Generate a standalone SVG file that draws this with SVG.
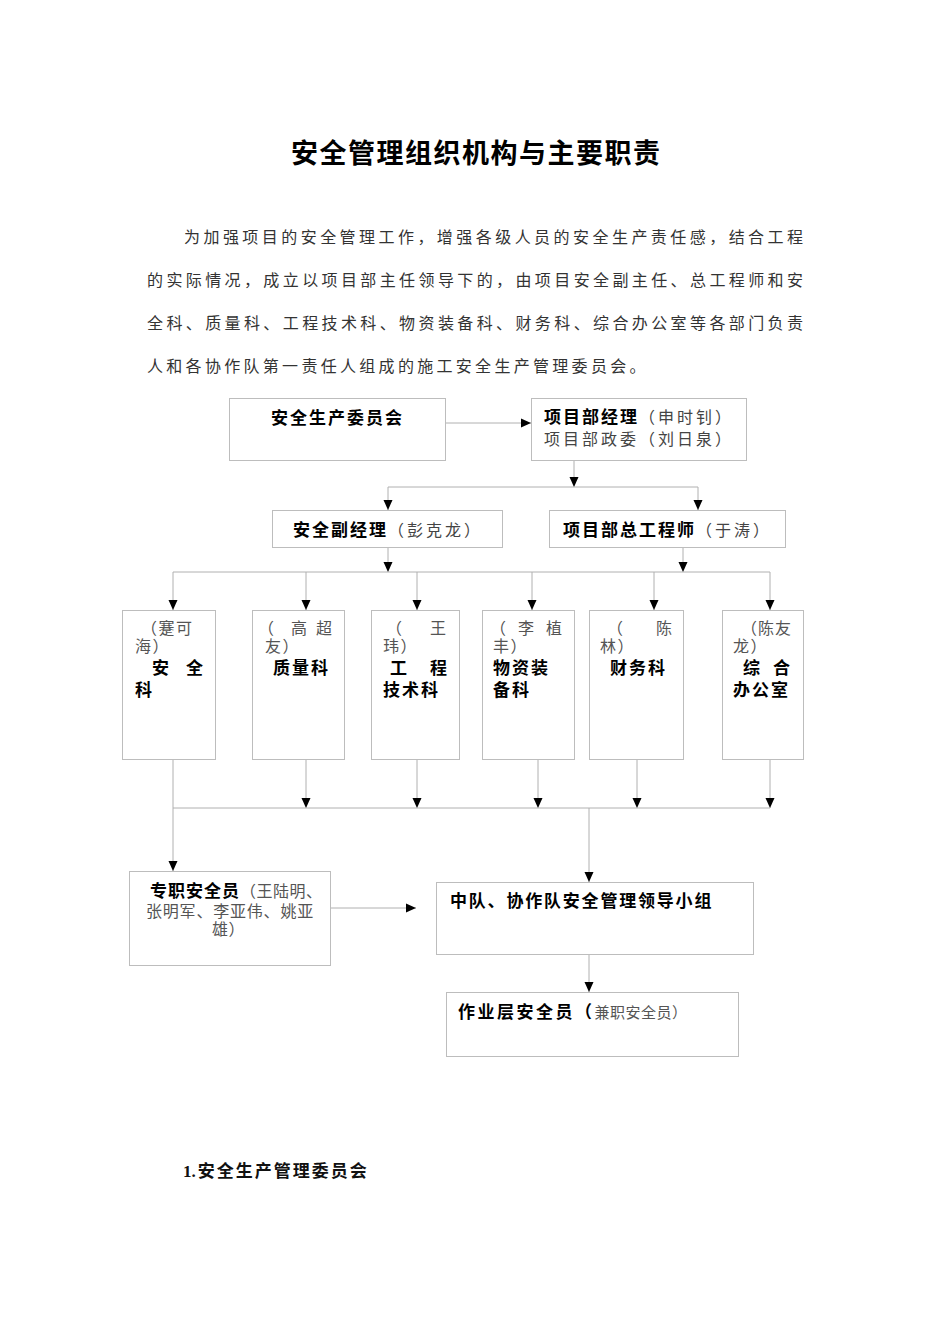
<svg xmlns="http://www.w3.org/2000/svg" width="950" height="1344" viewBox="0 0 950 1344">
<style>
  text { font-family: "Noto Sans CJK SC", "DejaVu Sans", sans-serif; }
  .title { font-size: 27px; font-weight: bold; fill: #000; }
  .body { font-size: 16px; fill: #333; }
  .b { font-size: 17px; font-weight: bold; fill: #000; letter-spacing: 2px; }
  .n { font-size: 16px; fill: #444; letter-spacing: 3px; }
  .s { font-size: 16px; fill: #555; letter-spacing: 1.5px; }
  .box { fill: #fff; stroke: #bdbdbd; stroke-width: 1; }
  .conn line, .conn polyline { stroke: #b0b0b0; stroke-width: 1; fill: none; }
  .ar { marker-end: url(#ah); }
</style>
<defs>
  <marker id="ah" markerUnits="userSpaceOnUse" markerWidth="10" markerHeight="10" viewBox="0 0 10 10" refX="10" refY="5" orient="auto">
    <path d="M0,0.5 L10,5 L0,9.5 Z" fill="#000"/>
  </marker>
</defs>
<rect width="950" height="1344" fill="#fff"/>

<text class="title" x="291" y="163" textLength="369" lengthAdjust="spacing">安全管理组织机构与主要职责</text>

<g id="intro">
  <text class="body" x="184" y="243" textLength="619" lengthAdjust="spacing">为加强项目的安全管理工作，增强各级人员的安全生产责任感，结合工程</text>
  <text class="body" x="147" y="286" textLength="656" lengthAdjust="spacing">的实际情况，成立以项目部主任领导下的，由项目安全副主任、总工程师和安</text>
  <text class="body" x="147" y="329" textLength="656" lengthAdjust="spacing">全科、质量科、工程技术科、物资装备科、财务科、综合办公室等各部门负责</text>
  <text class="body" x="147" y="372" style="letter-spacing:3.3px">人和各协作队第一责任人组成的施工安全生产管理委员会。</text>
</g>

<g class="conn">
  <line class="ar" x1="445" y1="423" x2="531" y2="423"/>
  <line class="ar" x1="574" y1="460" x2="574" y2="487"/>
  <line x1="388" y1="487" x2="698" y2="487"/>
  <line class="ar" x1="388" y1="487" x2="388" y2="510"/>
  <line class="ar" x1="698" y1="487" x2="698" y2="510"/>
  <line class="ar" x1="388" y1="547" x2="388" y2="572"/>
  <line class="ar" x1="683" y1="547" x2="683" y2="572"/>
  <line x1="173" y1="572" x2="770" y2="572"/>
  <line class="ar" x1="173" y1="572" x2="173" y2="610"/>
  <line class="ar" x1="306" y1="572" x2="306" y2="610"/>
  <line class="ar" x1="417" y1="572" x2="417" y2="610"/>
  <line class="ar" x1="532" y1="572" x2="532" y2="610"/>
  <line class="ar" x1="654" y1="572" x2="654" y2="610"/>
  <line class="ar" x1="770" y1="572" x2="770" y2="610"/>
  <line class="ar" x1="306" y1="759" x2="306" y2="808"/>
  <line class="ar" x1="417" y1="759" x2="417" y2="808"/>
  <line class="ar" x1="538" y1="759" x2="538" y2="808"/>
  <line class="ar" x1="637" y1="759" x2="637" y2="808"/>
  <line class="ar" x1="770" y1="759" x2="770" y2="808"/>
  <line x1="173" y1="808" x2="770" y2="808"/>
  <line class="ar" x1="173" y1="759" x2="173" y2="871"/>
  <line class="ar" x1="589" y1="808" x2="589" y2="882"/>
  <line class="ar" x1="331" y1="908" x2="416" y2="908"/>
  <line class="ar" x1="589" y1="954" x2="589" y2="992"/>
</g>

<g id="committee">
  <rect class="box" x="229.5" y="398.5" width="216" height="62"/>
  <text class="b" x="271" y="424">安全生产委员会</text>
</g>

<g id="manager">
  <rect class="box" x="531.5" y="398.5" width="215" height="62"/>
  <text x="544" y="423"><tspan class="b">项目部经理</tspan><tspan class="n">（申时钊）</tspan></text>
  <text class="n" x="544" y="445">项目部政委（刘日泉）</text>
</g>

<g id="safety-deputy">
  <rect class="box" x="272.5" y="510.5" width="230" height="37"/>
  <text x="293" y="536"><tspan class="b">安全副经理</tspan><tspan class="n">（彭克龙）</tspan></text>
</g>

<g id="chief-engineer">
  <rect class="box" x="549.5" y="510.5" width="236" height="37"/>
  <text x="563" y="536"><tspan class="b">项目部总工程师</tspan><tspan class="n">（于涛）</tspan></text>
</g>

<g id="dept-safety">
  <rect class="box" x="122.5" y="610.5" width="93" height="149"/>
  <text class="s" x="141" y="634">（蹇可</text>
  <text class="s" x="135" y="652">海）</text>
  <text class="b" x="152" y="674">安</text>
  <text class="b" x="186" y="674">全</text>
  <text class="b" x="135" y="696">科</text>
</g>

<g id="dept-quality">
  <rect class="box" x="252.5" y="610.5" width="92" height="149"/>
  <text class="s" x="258" y="634">（</text>
  <text class="s" x="291" y="634">高</text>
  <text class="s" x="316" y="634">超</text>
  <text class="s" x="265" y="652">友）</text>
  <text class="b" x="273" y="674">质量科</text>
</g>

<g id="dept-tech">
  <rect class="box" x="371.5" y="610.5" width="88" height="149"/>
  <text class="s" x="386" y="634">（</text>
  <text class="s" x="430" y="634">王</text>
  <text class="s" x="383" y="652">玮）</text>
  <text class="b" x="390" y="674">工</text>
  <text class="b" x="430" y="674">程</text>
  <text class="b" x="383" y="696">技术科</text>
</g>

<g id="dept-material">
  <rect class="box" x="482.5" y="610.5" width="92" height="149"/>
  <text class="s" x="490" y="634">（</text>
  <text class="s" x="518" y="634">李</text>
  <text class="s" x="546" y="634">植</text>
  <text class="s" x="493" y="652">丰）</text>
  <text class="b" x="493" y="674">物资装</text>
  <text class="b" x="493" y="696">备科</text>
</g>

<g id="dept-finance">
  <rect class="box" x="589.5" y="610.5" width="94" height="149"/>
  <text class="s" x="607" y="634">（</text>
  <text class="s" x="656" y="634">陈</text>
  <text class="s" x="600" y="652">林）</text>
  <text class="b" x="610" y="674">财务科</text>
</g>

<g id="dept-office">
  <rect class="box" x="722.5" y="610.5" width="81" height="149"/>
  <text class="s" x="741" y="634" style="letter-spacing:1px">（陈友</text>
  <text class="s" x="733" y="652">龙）</text>
  <text class="b" x="743" y="674">综</text>
  <text class="b" x="773" y="674">合</text>
  <text class="b" x="733" y="696">办公室</text>
</g>

<g id="full-time-officers">
  <rect class="box" x="129.5" y="871.5" width="201" height="94"/>
  <text x="150" y="897"><tspan class="b" style="letter-spacing:1px">专职安全员</tspan><tspan class="s" style="letter-spacing:0.5px">（王陆明、</tspan></text>
  <text class="s" x="146" y="917" style="letter-spacing:0.8px">张明军、李亚伟、姚亚</text>
  <text class="s" x="212" y="935" style="letter-spacing:0.5px">雄）</text>
</g>

<g id="squad-group">
  <rect class="box" x="436.5" y="882.5" width="317" height="72"/>
  <text class="b" x="450" y="907" style="letter-spacing:1.8px">中队、协作队安全管理领导小组</text>
</g>

<g id="worker-officers">
  <rect class="box" x="446.5" y="992.5" width="292" height="64"/>
  <text x="458" y="1018"><tspan class="b" style="letter-spacing:2.5px">作业层安全员（</tspan><tspan class="s" style="font-size:15px;letter-spacing:0.5px">兼职安全员）</tspan></text>
</g>

<text x="183" y="1177" style="font-size:17px;font-weight:bold;fill:#111"><tspan style="font-family:'Liberation Serif',serif">1.</tspan><tspan dx="2" style="letter-spacing:2px">安全生产管理委员会</tspan></text>
</svg>
